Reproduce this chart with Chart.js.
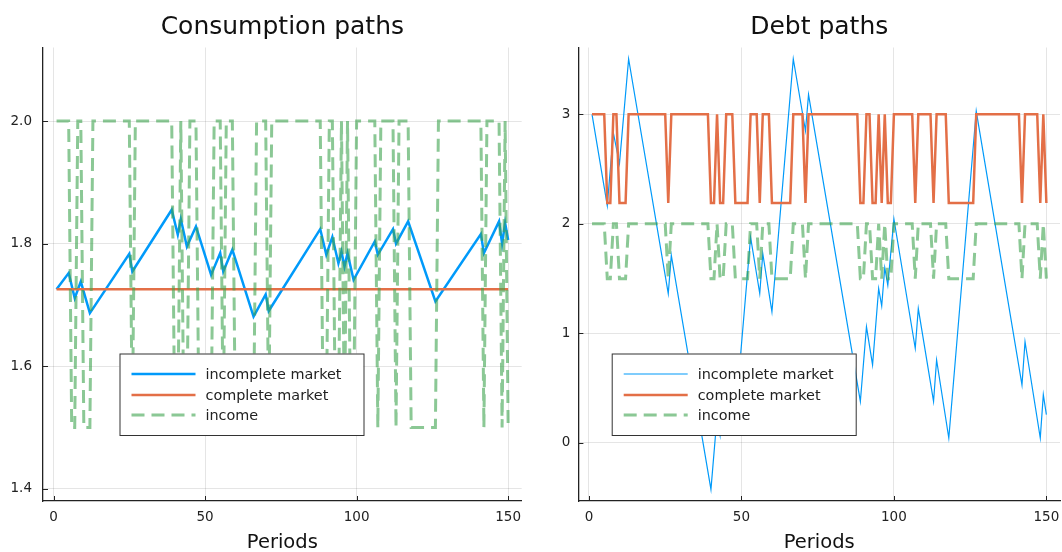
<!DOCTYPE html>
<html>
<head>
<meta charset="utf-8">
<script src="https://cdn.jsdelivr.net/npm/chart.js@4.4.0/dist/chart.umd.min.js"></script>
<style>
  html, body { margin: 0; padding: 0; background: #fff; }
  #wrap { position: relative; width: 1062px; height: 552px; }
  canvas { position: absolute; top: 0; }
</style>
</head>
<body>
<div id="wrap">
  <canvas id="consChart" width="531" height="552" style="left:0"></canvas>
  <canvas id="debtChart" width="531" height="552" style="left:531px"></canvas>
</div>
<script>
// ticks
const xTickVals = [0, 50, 100, 150];
const consTickVals = [1.4, 1.6, 1.8, 2.0];
const consTickLabels = ['1.4', '1.6', '1.8', '2.0'];
const debtTickVals = [0, 1, 2, 3];
const debtTickLabels = ['0', '1', '2', '3'];

// income, periods 1..150
const income = [
  2.0, 2.0, 2.0, 2.0, 2.0, 1.5, 1.5, 2.0, 2.0, 1.5,
  1.5, 1.5, 2.0, 2.0, 2.0, 2.0, 2.0, 2.0, 2.0, 2.0,
  2.0, 2.0, 2.0, 2.0, 2.0, 1.5, 2.0, 2.0, 2.0, 2.0,
  2.0, 2.0, 2.0, 2.0, 2.0, 2.0, 2.0, 2.0, 2.0, 1.5,
  1.5, 2.0, 1.5, 1.5, 2.0, 2.0, 2.0, 1.5, 1.5, 1.5,
  1.5, 1.5, 2.0, 2.0, 2.0, 1.5, 2.0, 2.0, 2.0, 1.5,
  1.5, 1.5, 1.5, 1.5, 1.5, 1.5, 2.0, 2.0, 2.0, 2.0,
  1.5, 2.0, 2.0, 2.0, 2.0, 2.0, 2.0, 2.0, 2.0, 2.0,
  2.0, 2.0, 2.0, 2.0, 2.0, 2.0, 2.0, 2.0, 1.5, 1.5,
  2.0, 2.0, 1.5, 1.5, 2.0, 1.5, 2.0, 1.5, 1.5, 2.0,
  2.0, 2.0, 2.0, 2.0, 2.0, 2.0, 1.5, 2.0, 2.0, 2.0,
  2.0, 2.0, 1.5, 2.0, 2.0, 2.0, 2.0, 1.5, 1.5, 1.5,
  1.5, 1.5, 1.5, 1.5, 1.5, 1.5, 2.0, 2.0, 2.0, 2.0,
  2.0, 2.0, 2.0, 2.0, 2.0, 2.0, 2.0, 2.0, 2.0, 2.0,
  2.0, 1.5, 2.0, 2.0, 2.0, 2.0, 2.0, 1.5, 2.0, 1.5
];

// complete market debt, periods 1..150
const debtComplete = [
  3.0, 3.0, 3.0, 3.0, 3.0, 2.19, 2.19, 3.0, 3.0, 2.19,
  2.19, 2.19, 3.0, 3.0, 3.0, 3.0, 3.0, 3.0, 3.0, 3.0,
  3.0, 3.0, 3.0, 3.0, 3.0, 2.19, 3.0, 3.0, 3.0, 3.0,
  3.0, 3.0, 3.0, 3.0, 3.0, 3.0, 3.0, 3.0, 3.0, 2.19,
  2.19, 3.0, 2.19, 2.19, 3.0, 3.0, 3.0, 2.19, 2.19, 2.19,
  2.19, 2.19, 3.0, 3.0, 3.0, 2.19, 3.0, 3.0, 3.0, 2.19,
  2.19, 2.19, 2.19, 2.19, 2.19, 2.19, 3.0, 3.0, 3.0, 3.0,
  2.19, 3.0, 3.0, 3.0, 3.0, 3.0, 3.0, 3.0, 3.0, 3.0,
  3.0, 3.0, 3.0, 3.0, 3.0, 3.0, 3.0, 3.0, 2.19, 2.19,
  3.0, 3.0, 2.19, 2.19, 3.0, 2.19, 3.0, 2.19, 2.19, 3.0,
  3.0, 3.0, 3.0, 3.0, 3.0, 3.0, 2.19, 3.0, 3.0, 3.0,
  3.0, 3.0, 2.19, 3.0, 3.0, 3.0, 3.0, 2.19, 2.19, 2.19,
  2.19, 2.19, 2.19, 2.19, 2.19, 2.19, 3.0, 3.0, 3.0, 3.0,
  3.0, 3.0, 3.0, 3.0, 3.0, 3.0, 3.0, 3.0, 3.0, 3.0,
  3.0, 2.19, 3.0, 3.0, 3.0, 3.0, 3.0, 2.19, 3.0, 2.19
];

// complete market consumption (flat)
const consCompleteT = [1, 150];
const consCompleteVal = [1.7255, 1.7255];

// incomplete market consumption, turning points
const consT = [1, 5, 7, 9, 12, 25, 26, 39, 41, 42, 44, 47, 52, 55, 56, 59, 66, 70, 71, 88,
  90, 92, 94, 95, 96, 97, 99, 106, 107, 112, 113, 117, 126, 141, 142, 147, 148, 149, 150];
const consVal = [1.7257, 1.752, 1.711, 1.738, 1.6865, 1.7834, 1.7545, 1.8553, 1.8145, 1.840,
  1.7953, 1.828, 1.749, 1.7845, 1.7545, 1.790, 1.681, 1.717, 1.690, 1.8237,
  1.7818, 1.8107, 1.768, 1.787, 1.7626, 1.7845, 1.741, 1.8035, 1.7818, 1.8237,
  1.800, 1.8362, 1.7055, 1.8156, 1.7845, 1.8362, 1.800, 1.8336, 1.806];

// incomplete market debt, turning points
const debtT = [1, 6, 8, 10, 13, 26, 27, 40, 42, 43, 45, 48, 53, 56, 57, 60, 67, 71, 72, 89,
  91, 93, 95, 96, 97, 98, 100, 107, 108, 113, 114, 118, 127, 142, 143, 148, 149, 150];
const debtVal = [3.0, 2.167, 2.83, 2.55, 3.506, 1.364, 1.712, -0.424, 0.24, 0.07,
  0.72, 0.24, 1.879, 1.364, 1.727, 1.197, 3.506, 2.85, 3.18, 0.379,
  1.06, 0.712, 1.41, 1.25, 1.6, 1.44, 2.045, 0.864, 1.227, 0.379,
  0.758, 0.045, 3.03, 0.53, 0.924, 0.045, 0.44, 0.258];

const FONT = '"DejaVu Sans", sans-serif';
const BLUE = '#009AFA';
const ORANGE = '#E36F47';
const GREEN = 'rgba(62,164,78,0.6)';
const AXIS = '#222';

function pts(xs, ys) { return xs.map((x, i) => ({ x: x, y: ys[i] })); }
function perPeriod(vals) { return vals.map((v, i) => ({ x: i + 1, y: v })); }

// titles, inward ticks and the boxed legend
function decor(title, legendLeft) {
  return {
    id: 'decor',
    afterDraw(chart) {
      const ctx = chart.ctx, area = chart.chartArea;
      const xs = chart.scales.x, ys = chart.scales.y;
      ctx.save();
      ctx.strokeStyle = AXIS;
      ctx.lineWidth = 1;
      ctx.beginPath();
      xs.ticks.forEach(t => {
        const px = Math.round(xs.getPixelForValue(t.value)) + 0.5;
        ctx.moveTo(px, area.bottom); ctx.lineTo(px, area.bottom - 5);
      });
      ys.ticks.forEach(t => {
        const py = Math.round(ys.getPixelForValue(t.value)) + 0.5;
        ctx.moveTo(area.left, py); ctx.lineTo(area.left + 5, py);
      });
      ctx.stroke();

      const cx = (area.left + area.right) / 2;
      ctx.fillStyle = '#111';
      ctx.textAlign = 'center';
      ctx.textBaseline = 'alphabetic';
      ctx.font = '25px ' + FONT;
      ctx.fillText(title, cx, 34);
      ctx.font = '19.5px ' + FONT;
      ctx.fillText('Periods', cx, 548);

      // legend
      const bx = legendLeft, by = 353.5, bw = 244, bh = 81.5;
      ctx.fillStyle = '#fff';
      ctx.fillRect(bx, by, bw, bh);
      ctx.strokeStyle = '#333';
      ctx.lineWidth = 1;
      ctx.strokeRect(bx + 0.5, by + 0.5, bw, bh);
      const rows = [374, 395, 415];
      chart.data.datasets.forEach((ds, i) => {
        ctx.strokeStyle = ds.borderColor;
        ctx.lineWidth = ds.borderWidth;
        ctx.setLineDash(ds.borderDash || []);
        ctx.beginPath();
        ctx.moveTo(bx + 12, rows[i]);
        ctx.lineTo(bx + 76, rows[i]);
        ctx.stroke();
        ctx.setLineDash([]);
        ctx.fillStyle = '#222';
        ctx.font = '14.4px ' + FONT;
        ctx.textAlign = 'left';
        ctx.textBaseline = 'middle';
        ctx.fillText(ds.label, bx + 86, rows[i] + 1);
      });
      ctx.restore();
    }
  };
}

function makeChart(id, o) {
  return new Chart(document.getElementById(id), {
    type: 'line',
    data: {
      datasets: [
        { label: 'incomplete market', data: o.incomplete, borderColor: BLUE, borderWidth: o.blueWidth, order: 3 },
        { label: 'complete market', data: o.complete, borderColor: ORANGE, borderWidth: 2.5, order: 2 },
        { label: 'income', data: perPeriod(income), borderColor: GREEN, borderWidth: 3, borderDash: [13, 7], order: 1 }
      ]
    },
    options: {
      responsive: false,
      animation: false,
      layout: { padding: { left: 0, top: 47.5, right: o.padRight, bottom: 0 } },
      elements: { point: { radius: 0 }, line: { tension: 0, fill: false } },
      plugins: { legend: { display: false }, tooltip: { enabled: false }, title: { display: false } },
      scales: {
        x: {
          type: 'linear', min: -3.47, max: 154.47,
          afterBuildTicks: s => { s.ticks = xTickVals.map(v => ({ value: v })); },
          afterFit: s => { s.height = 51; s.paddingLeft = 0; s.paddingRight = 0; },
          grid: { color: 'rgba(0,0,0,0.1)', lineWidth: 1, drawTicks: false },
          border: { display: true, color: AXIS, width: 1.3 },
          ticks: { padding: 8, maxRotation: 0, color: '#222', font: { family: FONT, size: 13.5 },
                   callback: v => String(v) }
        },
        y: {
          type: 'linear', min: o.yMin, max: o.yMax,
          afterBuildTicks: s => { s.ticks = o.yTicks.map(v => ({ value: v })); },
          afterFit: s => { s.width = o.yWidth; s.paddingTop = 0; s.paddingBottom = 0; },
          grid: { color: 'rgba(0,0,0,0.1)', lineWidth: 1, drawTicks: false },
          border: { display: true, color: AXIS, width: 1.3 },
          ticks: { padding: o.yPad, color: '#222', font: { family: FONT, size: 13.5 },
                   callback: (v, i) => o.yLabels[i] }
        }
      }
    },
    plugins: [decor(o.title, o.legendLeft)]
  });
}

makeChart('consChart', {
  title: 'Consumption paths',
  incomplete: pts(consT, consVal),
  complete: pts(consCompleteT, consCompleteVal),
  blueWidth: 2.5,
  yMin: 1.38, yMax: 2.12, yTicks: consTickVals, yLabels: consTickLabels,
  yWidth: 43, yPad: 11, padRight: 9.3, legendLeft: 119.5
});

makeChart('debtChart', {
  title: 'Debt paths',
  incomplete: pts(debtT, debtVal),
  complete: perPeriod(debtComplete),
  blueWidth: 1.2,
  yMin: -0.53, yMax: 3.61, yTicks: debtTickVals, yLabels: debtTickLabels,
  yWidth: 47.4, yPad: 8, padRight: 2, legendLeft: 80.7
});
</script>
</body>
</html>
